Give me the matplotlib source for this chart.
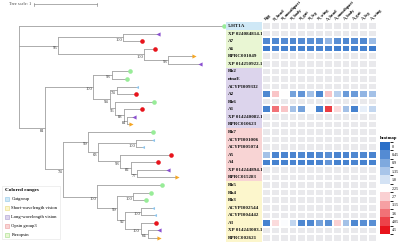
import numpy as np
import matplotlib.pyplot as plt
from matplotlib.colors import LinearSegmentedColormap, ListedColormap, BoundaryNorm
from matplotlib.patches import Patch

plt.rcParams['font.family'] = ['Liberation Serif', 'DejaVu Serif']

# arbol (newick, longitudes de rama, soporte bootstrap)
arbol = ("(5-HT1A:3.25,((XP_024084814.1:0.56,A7:0.30)100:1.03,(A6:0.17,(RPRC001049:0.40,"
         "XP_014250922.1:0.51)93:0.38)100:1.37)95:0.62,(((Rh2:0.29,ninaE:0.25)93:0.30,"
         "((ACYPI009332:0.33,A2:0.30)74:0.11,(Rh6:0.63,(A1:0.30,(XP_014240082.1:0.11,"
         "RPRC010623:0.06)81:0.06)88:0.14)56:0.08)94:0.27)100:0.76,((Rh7:1.02,"
         "((ACYPI001006:0.27,ACYPI005074:0.11)100:0.60,(A5:0.81,(A4:0.44,(XP_014244894.1:0.49,"
         "RPRC015283:0.63)77:0.11)82:0.16)93:0.35)63:0.16)99:0.40,(Rh5:1.03,((Rh4:0.29,"
         "Rh3:0.21)100:0.25,((ACYPI002544:0.19,ACYPI004442:0.22)100:0.25,(A3:0.25,"
         "(XP_014243003.1:0.19,RPRC002621:0.19)64:0.11)100:0.24)92:0.13)99:0.32)100:0.54)74:0.29)81:0.41);")

grupos = (['Outgroup'] + ['Pteropsin'] * 5 + ['Long-wavelength vision'] * 8 +
          ['Opsin group3'] * 7 + ['Short-wavelength vision'] * 8)
colores_grupo = {'Outgroup': '#cfe8f6', 'Short-wavelength vision': '#fcf6cc',
                 'Long-wavelength vision': '#dcd4ec', 'Opsin group3': '#f8d4d4',
                 'Pteropsin': '#e9f6d3'}
bordes_grupo = {'Outgroup': '#8fc6e8', 'Short-wavelength vision': '#e6d97a',
                'Long-wavelength vision': '#a99bd0', 'Opsin group3': '#eb9a9a',
                'Pteropsin': '#9fdc86'}
orden_leyenda = ['Outgroup', 'Short-wavelength vision', 'Long-wavelength vision',
                 'Opsin group3', 'Pteropsin']

columnas = ['Egg', 'N_head', 'N_mouthpart', 'N_body', 'N_gut', 'N_leg', 'N_wing',
            'A_head', 'A_mouthpart', 'A_body', 'A_gut', 'A_leg', 'A_wing']
A7 = [0.40, 0.40, 0.45, 0.40, 0.45, 0.50, 0.50, 1.10, 0.50, 0.40, 0.45, 0.40, 1.20]
A6 = [0.20, 0.35, 0.30, 0.30, 0.30, 0.30, 0.35, 0.30, 0.25, 0.30, 0.30, 0.30, 0.20]
A2 = [0.40, 2.80, 2.25, 0.80, 0.60, 1.30, 0.40, 2.80, 1.50, 0.70, 0.70, 1.10, 1.30]
A1 = [0.30, 3.60, 2.80, 1.30, 0.80, 2.20, 0.30, 4.10, 2.60, 1.30, 0.30, 2.00, 1.60]
A5 = [1.30, 0.35, 0.35, 0.35, 0.40, 0.35, 0.40, 0.50, 0.35, 0.35, 0.40, 0.40, 0.35]
A4 = [0.30, 0.30, 0.30, 0.35, 0.30, 0.30, 0.35, 0.60, 0.30, 0.30, 0.35, 0.30, 0.30]
A3 = [0.30, 2.60, 2.20, 1.60, 0.40, 0.40, 0.80, 0.50, 2.70, 1.30, 0.40, 0.50, 0.50]
expresion = {'A7': A7, 'A6': A6, 'A2': A2, 'A1': A1, 'A5': A5, 'A4': A4, 'A3': A3}
ticks_heat = [0, 0.45, 0.9, 1.35, 1.8, 2.25, 2.7, 3.15, 3.6, 4.05, 4.5]


def leer_newick(s):
    pos = 0

    def nodo():
        nonlocal pos
        hijos = []
        if s[pos] == '(':
            pos += 1
            hijos.append(nodo())
            while s[pos] == ',':
                pos += 1
                hijos.append(nodo())
            pos += 1
        ini = pos
        while s[pos] not in ':,);':
            pos += 1
        nombre = s[ini:pos]
        largo = 0.0
        if s[pos] == ':':
            pos += 1
            ini = pos
            while s[pos] not in ',);':
                pos += 1
            largo = float(s[ini:pos])
        return {'nombre': nombre, 'largo': largo, 'hijos': hijos}
    return nodo()


raiz = leer_newick(arbol)
hojas = []


def colocar(n, x0):
    n['x'] = x0 + n['largo']
    if not n['hijos']:
        n['y'] = len(hojas)
        hojas.append(n)
    else:
        for h in n['hijos']:
            colocar(h, n['x'])
        n['y'] = (n['hijos'][0]['y'] + n['hijos'][-1]['y']) / 2


colocar(raiz, 0.0)
raiz['y'] = np.mean([h['y'] for h in raiz['hijos']])
n_filas = len(hojas)

fig = plt.figure(figsize=(4, 2.43), dpi=100)
y_arriba, y_abajo = 22.2, 241.8
b = 1 - y_abajo / 243
h = (y_abajo - y_arriba) / 243

ax = fig.add_axes([0, b, 226 / 400, h])
ax.set_xlim(-19 / 63, 207 / 63)
ax.set_ylim(n_filas - 0.5, -0.5)
ax.axis('off')

gris = '#8c8c8c'


def dibujar(n, xp):
    ax.plot([xp, n['x']], [n['y'], n['y']], color=gris, lw=0.5, solid_capstyle='butt')
    if n['hijos']:
        ys = [c['y'] for c in n['hijos']]
        ax.plot([n['x'], n['x']], [min(ys), max(ys)], color=gris, lw=0.5)
        for c in n['hijos']:
            dibujar(c, n['x'])
        if n['nombre']:
            ax.annotate(n['nombre'], (n['x'], n['y']), xytext=(-0.6, -1.6),
                        textcoords='offset points', ha='right', va='center',
                        fontsize=3.3, color='#333333')


ys = [c['y'] for c in raiz['hijos']]
ax.plot([0, 0], [min(ys), max(ys)], color=gris, lw=0.5)
for c in raiz['hijos']:
    dibujar(c, 0.0)

for hoja in hojas:
    nm = hoja['nombre']
    if nm.startswith('XP'):
        est = dict(marker='<', color='#8a4fd0', ms=3.0)
    elif nm.startswith('RPRC'):
        est = dict(marker='>', color='#f5a623', ms=3.0)
    elif nm.startswith('ACYPI'):
        est = dict(marker='<', color='#8cc4ec', ms=2.2)
    elif nm[0] == 'A':
        est = dict(marker='o', color='#e8141c', ms=3.3)
    else:
        est = dict(marker='o', color='#98ec98', ms=3.3)
    ax.plot(hoja['x'], hoja['y'], linestyle='none', markeredgewidth=0, **est)

# barra de escala
ax.plot([15 / 63, 15 / 63 + 1], [-2.9, -2.9], color=gris, lw=0.5, clip_on=False)
for xs in [15 / 63, 15 / 63 + 1]:
    ax.plot([xs, xs], [-3.1, -2.7], color=gris, lw=0.5, clip_on=False)
ax.text(15 / 63 - 0.04, -2.9, 'Tree scale: 1', fontsize=3.2, ha='right', va='center',
        color='#444444', clip_on=False)

# etiquetas con fondo de color
ax_lab = fig.add_axes([226 / 400, b, 36 / 400, h])
ax_lab.barh(range(n_filas), [1] * n_filas, height=1.0, left=0,
            color=[colores_grupo[g] for g in grupos], linewidth=0)
for i, hoja in enumerate(hojas):
    ax_lab.text(0.05, i, hoja['nombre'].replace('_', ' '), fontsize=3.6,
                fontweight='bold', va='center', ha='left', color='#111111')
ax_lab.set_xlim(0, 1)
ax_lab.set_ylim(n_filas - 0.5, -0.5)
ax_lab.axis('off')

# mapa de calor
cmap = LinearSegmentedColormap.from_list('azul_rojo', ['#2a6fc8', '#ffffff', '#e8141c'])
cmap.set_bad('#e9e9ec')
matriz = np.full((n_filas, len(columnas)), np.nan)
for i, hoja in enumerate(hojas):
    if hoja['nombre'] in expresion:
        matriz[i] = expresion[hoja['nombre']]

ax_h = fig.add_axes([262 / 400, b, 115 / 400, h])
ax_h.pcolormesh(np.arange(len(columnas) + 1), np.arange(n_filas + 1) - 0.5,
                np.ma.masked_invalid(matriz), cmap=cmap, vmin=0, vmax=4.5,
                edgecolors='white', linewidth=0.35)
ax_h.set_ylim(n_filas - 0.5, -0.5)
ax_h.set_xlim(0, len(columnas))
ax_h.xaxis.tick_top()
ax_h.set_xticks(np.arange(len(columnas)) + 0.5)
ax_h.set_xticklabels(columnas, rotation=45, ha='left', va='bottom',
                     rotation_mode='anchor', fontsize=3.2, fontweight='bold')
ax_h.tick_params(axis='x', length=0, pad=1.0)
ax_h.set_yticks([])
for s in ax_h.spines.values():
    s.set_visible(False)

# leyenda del mapa de calor
colores_ticks = ListedColormap([cmap(v / 4.5) for v in ticks_heat])
limites = [ticks_heat[0] - 0.225] + [t + 0.225 for t in ticks_heat]
cax = fig.add_axes([380 / 400, 1 - 234 / 243, 10 / 400, 92 / 243])
sm = plt.cm.ScalarMappable(norm=BoundaryNorm(limites, len(ticks_heat)), cmap=colores_ticks)
cb = fig.colorbar(sm, cax=cax, ticks=ticks_heat, drawedges=True)
cb.outline.set_visible(False)
cb.dividers.set_color('white')
cb.dividers.set_linewidth(0.4)
cb.ax.invert_yaxis()
cb.ax.tick_params(labelsize=2.9, length=0, pad=1.2)
cb.ax.set_yticklabels([f'{t:g}' for t in ticks_heat])
cax.set_title('heatmap', fontsize=3.3, fontweight='bold', loc='left', pad=2.5)

# leyenda de rangos coloreados
manijas = [Patch(facecolor=colores_grupo[g], edgecolor=bordes_grupo[g], linewidth=0.4, label=g)
           for g in orden_leyenda]
leg = fig.legend(handles=manijas, title='Colored ranges', loc='lower left',
                 bbox_to_anchor=(0.0, 0.005), fontsize=3.3, title_fontsize=3.7,
                 frameon=True, fancybox=False, edgecolor='#dddddd',
                 handlelength=1.0, handleheight=1.0, labelspacing=0.95,
                 borderpad=0.5, handletextpad=0.5, alignment='left')
leg.get_title().set_fontweight('bold')
leg.get_frame().set_linewidth(0.4)

plt.savefig('out.png', dpi=100)
